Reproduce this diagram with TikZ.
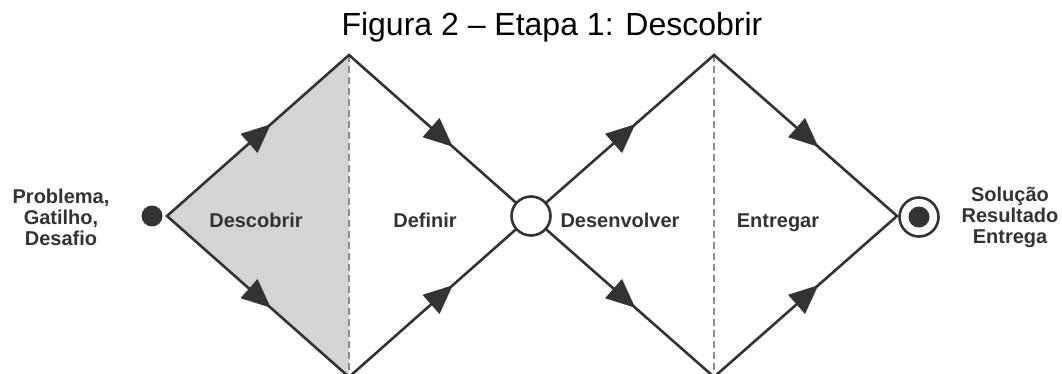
\documentclass[tikz,border=0pt]{standalone}
\usepackage{fontspec}
\setmainfont{Liberation Sans}
\usetikzlibrary{arrows.meta,decorations.markings}
\definecolor{ink}{HTML}{333333}
\definecolor{greyfill}{HTML}{D4D4D4}

\begin{document}
\begin{tikzpicture}[x=1pt, y=-1pt, line width=2.6pt, color=ink]
      \tikzstyle{flow} = [postaction={decorate}, decoration={markings, mark=at position 0.57 with {\arrow{Triangle[length=29pt,width=25pt]}}}]
      \tikzstyle{phase} = [font=\bfseries\fontsize{20}{23}\selectfont, text=ink, anchor=base]
      \tikzstyle{side} = [font=\bfseries\fontsize{20}{21}\selectfont, text=ink, align=center]
      \tikzstyle{divider} = [draw=black!45, line width=1.6pt, dash pattern=on 7pt off 4pt]
      \tikzstyle{dot} = [circle, fill=ink, minimum size=21pt, inner sep=0pt]
      \tikzstyle{ring} = [circle, draw=ink, fill=white, minimum size=39pt, inner sep=0pt, line width=2.6pt]

      \useasboundingbox (0,0) rectangle (1062,374);
      \clip (0,0) rectangle (1062,374);

      % corners of the two diamonds
      \coordinate (start) at (167,216);
      \coordinate (top-A) at (349,55);
      \coordinate (bot-A) at (349,377);
      \coordinate (mid) at (531,216);
      \coordinate (top-B) at (714,55);
      \coordinate (bot-B) at (714,377);
      \coordinate (end) at (897,216);

      \fill[greyfill] (start) -- (top-A) -- (bot-A) -- cycle;
      \draw[divider] (top-A) -- (bot-A);
      \draw[divider] (top-B) -- (bot-B);

      \draw[line join=miter] (start) -- (top-A) -- (mid) -- (bot-A) -- cycle;
      \draw[line join=miter] (mid) -- (top-B) -- (end) -- (bot-B) -- cycle;

      \path[flow] (start) -- (top-A);
      \path[flow] (start) -- (bot-A);
      \path[flow] (top-A) -- (mid);
      \path[flow] (bot-A) -- (mid);
      \path[flow] (mid) -- (top-B);
      \path[flow] (mid) -- (bot-B);
      \path[flow] (top-B) -- (end);
      \path[flow] (bot-B) -- (end);

      \node[dot] (source) at (152,216) {};
      \node[ring] (merge) at (mid) {};
      \node[ring] (goal) at (919,217) {};
      \node[dot] (goal-core) at (goal) {};

      \node[font=\fontsize{32}{34}\selectfont, text=black, anchor=base] (title) at (552,36) {Figura 2 – Etapa 1: Descobrir};

      \node[phase] (descobrir) at (256,227) {Descobrir};
      \node[phase] (definir) at (425,227) {Definir};
      \node[phase] (desenvolver) at (620,227) {Desenvolver};
      \node[phase] (entregar) at (778,227) {Entregar};

      \node[side] (problema) at (61,217) {Problema,\\Gatilho,\\Desafio};
      \node[side] (solucao) at (1010,217) {Solução\\Resultado\\Entrega};
\end{tikzpicture}
\end{document}
